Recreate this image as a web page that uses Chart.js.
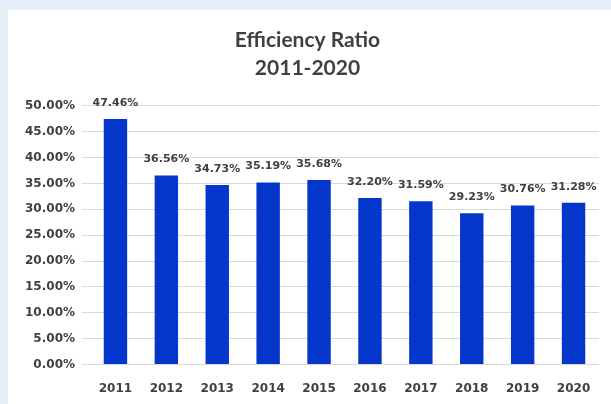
<!DOCTYPE html>
<html>
<head>
<meta charset="utf-8">
<script src="https://cdn.jsdelivr.net/npm/chart.js@4"></script>
<style>
  body { margin: 0; background: #e6eff9; overflow: hidden; }
  #wrap { position: absolute; left: 8px; top: 10px; width: 603px; height: 395px; background: #fff; }
</style>
</head>
<body>
<div id="wrap"><canvas id="chart1"></canvas></div>
<script>
/* Efficiency ratio by year */
const years = ['2011', '2012', '2013', '2014', '2015', '2016', '2017', '2018', '2019', '2020'];
const ratios = [47.46, 36.56, 34.73, 35.19, 35.68, 32.20, 31.59, 29.23, 30.76, 31.28];

const textColor = '#404040';
const titleFont = 'Lato, "Open Sans", sans-serif';
const labelFont = '"DejaVu Sans", Verdana, sans-serif';

// value labels above each bar
const barLabels = {
    id: 'barLabels',
    afterDatasetsDraw(chart) {
        const c = chart.ctx;
        const meta = chart.getDatasetMeta(0);
        c.save();
        c.fillStyle = textColor;
        c.font = 'bold 11px ' + labelFont;
        c.textAlign = 'center';
        c.textBaseline = 'middle';
        meta.data.forEach((bar, i) => {
            c.fillText(ratios[i].toFixed(2) + '%', bar.x, bar.y - 16);
        });
        c.restore();
    }
};

const ctx = document.getElementById('chart1');

const data = {
    labels: years,
    datasets: [
        {
            data: ratios,
            backgroundColor: '#0536cc',
            barPercentage: 0.46,
            categoryPercentage: 1
        },
    ],
}

const config = {
    type: 'bar',
    data,
    options: {
        responsive: true,
        maintainAspectRatio: false,
        animation: false,
        layout: {
            padding: { left: 8, right: 12, top: 0, bottom: 0 }
        },
        plugins: {
            legend: { display: false },
            tooltip: { enabled: false },
            title: {
                display: true,
                text: ['Efficiency Ratio', '2011-2020'],
                color: textColor,
                font: { family: titleFont, size: 21, weight: 'bold', lineHeight: 1.33 },
                padding: { top: 16, bottom: 24 }
            }
        },
        scales: {
            x: {
                grid: { display: false },
                border: { display: false },
                ticks: {
                    color: textColor,
                    font: { family: labelFont, size: 12, weight: 'bold' },
                    padding: 9
                }
            },
            y: {
                min: 0,
                max: 50,
                afterFit: s => { s.width = 74; },
                grid: { color: '#d9d9d9' },
                border: { display: false },
                ticks: {
                    stepSize: 5,
                    color: textColor,
                    padding: 7,
                    font: { family: labelFont, size: 12, weight: 'bold' },
                    callback: v => v.toFixed(2) + '%'
                }
            }
        }
    },
    plugins: [barLabels]
};

const chart1 = new Chart(ctx, config);
</script>
</body>
</html>
